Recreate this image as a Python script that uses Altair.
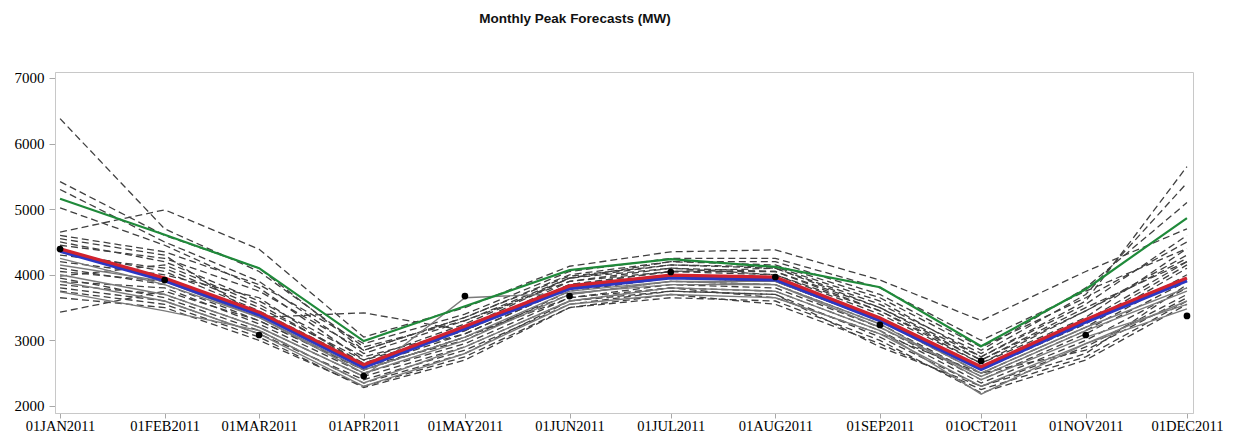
import altair as alt
import pandas as pd

months = ["2011-01-01", "2011-02-01", "2011-03-01", "2011-04-01", "2011-05-01", "2011-06-01",
          "2011-07-01", "2011-08-01", "2011-09-01", "2011-10-01", "2011-11-01", "2011-12-01"]

# Forecast scenarios drawn dashed
dashed_scenarios = {
    "D1": [6380, 4700, 4050, 2900, 3300, 3950, 4100, 4050, 3500, 2700, 3500, 4200],
    "D2": [5420, 4600, 4100, 2850, 3350, 3980, 4150, 4120, 3600, 2750, 3600, 5650],
    "D3": [5300, 4500, 3900, 2800, 3300, 3900, 4050, 4100, 3550, 2800, 3700, 5400],
    "D4": [5020, 4450, 3800, 2700, 3250, 3950, 4200, 4150, 3650, 2850, 3800, 5100],
    "D5": [4650, 4990, 4390, 3050, 3500, 4130, 4350, 4380, 3920, 3300, 4050, 4700],
    "D6": [4550, 4300, 3350, 3420, 3150, 3900, 4100, 4000, 3400, 2650, 3350, 4400],
    "D7": [4500, 4200, 3600, 2750, 3150, 3850, 4050, 4000, 3450, 2700, 3450, 4300],
    "D8": [4300, 4100, 3500, 2700, 3100, 3800, 4000, 3950, 3350, 2600, 3300, 4200],
    "D9": [4200, 4000, 3650, 2600, 3000, 3750, 3950, 3900, 3300, 2500, 3200, 4100],
    "D10": [4100, 3850, 3300, 2550, 3050, 3700, 3900, 3850, 3250, 2450, 3150, 4000],
    "D11": [3980, 4150, 3550, 2650, 3200, 3950, 4150, 4100, 3500, 2750, 3550, 4600],
    "D12": [3900, 3800, 3250, 2500, 2950, 3650, 3850, 3800, 3200, 2400, 3100, 3900],
    "D13": [3850, 3700, 3200, 2450, 2900, 3600, 3800, 3750, 3150, 2350, 3000, 3800],
    "D14": [3800, 3600, 3100, 2400, 2850, 3550, 3750, 3700, 3050, 2300, 2900, 3700],
    "D15": [3650, 3500, 3000, 2300, 2750, 3500, 3700, 3550, 2950, 2250, 2750, 3600],
    "D16": [3430, 3750, 3300, 2550, 3050, 3650, 3800, 3650, 3100, 2500, 2850, 3650],
    "D17": [4450, 4250, 3750, 2850, 3350, 4000, 4200, 4200, 3700, 2900, 3650, 4500],
    "D18": [4350, 4050, 3450, 2650, 3150, 3850, 4050, 4050, 3450, 2650, 3450, 4250],
    "D19": [4050, 3900, 3400, 2600, 3100, 3800, 3950, 3900, 3300, 2550, 3250, 4150],
    "D20": [3950, 3650, 3150, 2350, 2800, 3600, 3750, 3700, 2900, 2300, 2800, 3850],
    "D21": [4600, 4350, 3850, 2950, 3400, 4050, 4250, 4250, 3800, 3000, 3750, 4400],
    "D22": [3750, 3550, 3050, 2280, 2700, 3500, 3650, 3600, 3000, 2200, 2700, 3550],
}

# Scenarios drawn as solid gray lines
solid_scenarios = {
    "G1": [3740, 3450, 3150, 2350, 2900, 3600, 3800, 3750, 3150, 2180, 2950, 3480],
    "G2": [4000, 3700, 3200, 2450, 3650, 3720, 3850, 3850, 3250, 2400, 3050, 3550],
    "G3": [4150, 3900, 3350, 2500, 3000, 3700, 3900, 3850, 3200, 2450, 3150, 3750],
    "G4": [3900, 3600, 3100, 2300, 2800, 3550, 3700, 3650, 3100, 2300, 2950, 3600],
    "G5": [4250, 3850, 3350, 2550, 3050, 3750, 3900, 3900, 3300, 2500, 3200, 3800],
}

green_line = [5160, 4610, 4100, 2990, 3520, 4070, 4240, 4120, 3810, 2910, 3780, 4865]
blue_line = [4360, 3910, 3390, 2590, 3180, 3790, 3955, 3925, 3300, 2560, 3280, 3910]
red_line = [4395, 3950, 3430, 2630, 3215, 3830, 3995, 3965, 3340, 2600, 3320, 3950]
actual_points = [4393, 3920, 3082, 2457, 3676, 3676, 4042, 3966, 3235, 2686, 3082, 3372]


def long_form(series_dict):
    rows = []
    for name, vals in series_dict.items():
        for d, v in zip(months, vals):
            rows.append({"series": name, "date": d, "value": v})
    return pd.DataFrame(rows)


dashed_df = long_form(dashed_scenarios)
solid_df = long_form(solid_scenarios)
green_df = pd.DataFrame({"date": months, "value": green_line})
blue_df = pd.DataFrame({"date": months, "value": blue_line})
red_df = pd.DataFrame({"date": months, "value": red_line})
pts_df = pd.DataFrame({"date": months, "value": actual_points})

tick_dates = [alt.DateTime(year=2011, month=m, date=1, utc=True) for m in range(1, 13)]

x_enc = alt.X(
    "date:T",
    scale=alt.Scale(
        type="utc",
        domain=[alt.DateTime(year=2010, month=12, date=30, hours=12, utc=True),
                alt.DateTime(year=2011, month=12, date=2, hours=19, utc=True)],
    ),
    axis=alt.Axis(
        values=tick_dates,
        labelExpr="upper(utcFormat(datum.value, '%d%b%Y'))",
        title=None,
        grid=False,
        tickSize=5,
        tickColor="#a8a8a8",
        domainColor="#c8c8c8",
        labelFont="Liberation Serif",
        labelFontSize=14.5,
        labelColor="#000000",
        labelPadding=1,
        labelOverlap=False,
        labelFlush=False,
    ),
)

y_enc = alt.Y(
    "value:Q",
    scale=alt.Scale(domain=[1893, 7091], nice=False, zero=False),
    axis=alt.Axis(
        values=[2000, 3000, 4000, 5000, 6000, 7000],
        format="d",
        title=None,
        grid=False,
        tickSize=6,
        tickColor="#a8a8a8",
        domainColor="#c8c8c8",
        labelFont="Liberation Serif",
        labelFontSize=15,
        labelColor="#000000",
        labelPadding=5,
    ),
)

dashed = alt.Chart(dashed_df).mark_line(
    color="#404040", strokeWidth=1.3, strokeDash=[7, 4]
).encode(x=x_enc, y=y_enc, detail="series:N")

solid = alt.Chart(solid_df).mark_line(
    color="#7a7a7a", strokeWidth=1.4
).encode(x=x_enc, y=y_enc, detail="series:N")

green = alt.Chart(green_df).mark_line(color="#1f8a3a", strokeWidth=2.2).encode(x=x_enc, y=y_enc)
blue = alt.Chart(blue_df).mark_line(color="#2b37c4", strokeWidth=3.5).encode(x=x_enc, y=y_enc)
red = alt.Chart(red_df).mark_line(color="#d1222e", strokeWidth=3.2).encode(x=x_enc, y=y_enc)
pts = alt.Chart(pts_df).mark_point(
    filled=True, color="#000000", size=45, opacity=1
).encode(x=x_enc, y=y_enc)

chart = alt.layer(dashed, solid, green, blue, red, pts).properties(
    width=1138,
    height=341,
    autosize=alt.AutoSizeParams(type="none"),
    padding={"left": 47, "top": 64, "right": 32, "bottom": 23},
    title=alt.TitleParams(
        "Monthly Peak Forecasts (MW)",
        font="Liberation Sans",
        fontSize=13.5,
        fontWeight="bold",
        color="#111111",
        anchor="middle",
        frame="group",
        offset=45,
        dx=-49,
    ),
).configure_view(stroke="#c8c8c8", strokeWidth=1)

chart.save("out.html", embed_options={"renderer": "svg", "actions": False})
